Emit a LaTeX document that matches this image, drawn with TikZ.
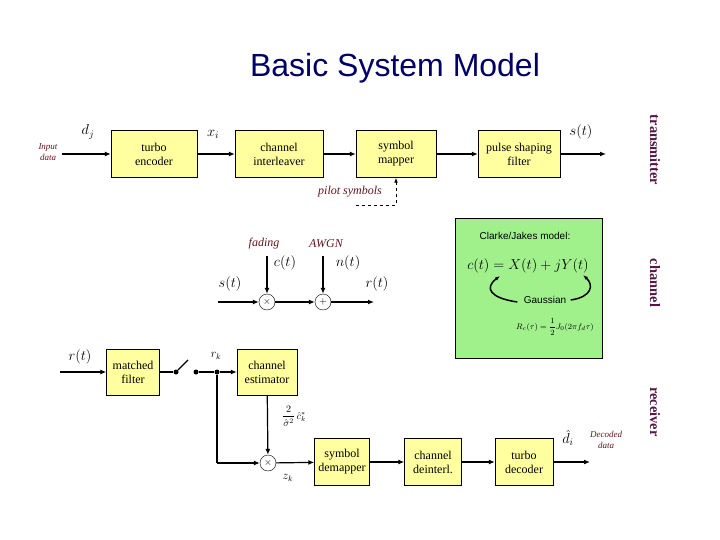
\documentclass[tikz,border=0pt]{standalone}
\usepackage{fontspec}
\setmainfont{Liberation Serif}
\newfontfamily\sansf{Liberation Sans}
\usetikzlibrary{arrows.meta}
\definecolor{boxy}{RGB}{255,255,160}
\definecolor{boxg}{RGB}{160,240,140}
\definecolor{lbl}{RGB}{100,20,30}
\definecolor{side}{RGB}{90,20,70}
\begin{document}
\begin{tikzpicture}[x=1pt,y=-1pt,
  blk/.style={draw,fill=boxy,minimum height=47pt,align=center,font=\large,inner sep=1pt},
  ar/.style={-{Latex[length=6pt,width=5pt]},line width=1.2pt},
  ln/.style={line width=1.2pt},
  op/.style={draw,circle,minimum size=16pt,inner sep=0pt},
  it/.style={font=\large\itshape,text=lbl},
  sd/.style={font=\bfseries\Large,text=side,rotate=-90},
  dot/.style={circle,fill,inner sep=0pt,minimum size=5pt}]
\useasboundingbox (0,0) rectangle (720,540);
\node[font=\sansf\fontsize{32}{38}\selectfont,text=blue!40!black] (title) at (395,68) {Basic System Model};
% transmitter
\node[blk,minimum width=86pt] (te) at (154,154) {turbo\\encoder};
\node[blk,minimum width=88pt] (ci) at (279,154) {channel\\interleaver};
\node[blk,minimum width=80pt] (sm) at (396,154) {symbol\\mapper};
\node[blk,minimum width=82pt] (ps) at (519,154) {pulse shaping\\filter};
\node[it,font=\small\itshape,align=center] (in) at (48,152) {Input\\data};
\coordinate (ina) at (62,154);
\coordinate (sout) at (606,154);
\draw[ar] (ina) -- (te);
\draw[ar] (te) -- (ci);
\draw[ar] (ci) -- (sm);
\draw[ar] (sm) -- (ps);
\draw[ar] (ps) -- (sout);
\node (dj) at (88,132) {\Large$d_j$};
\node (xi) at (213,134) {\Large$x_i$};
\node (st1) at (581,132) {\Large$s(t)$};
\node[it] (pil) at (350,192) {pilot symbols};
\coordinate (p1) at (356,205);
\coordinate (p2) at (396,205);
\draw[dashed,thick,-{Latex[length=5pt]}] (p1) -- (p2) -- (sm.south);
\node[sd] (tx) at (655,150) {transmitter};
% channel
\node[op] (mul) at (267,302) {$\times$};
\node[op] (add) at (323,302) {$+$};
\coordinate (sin) at (218,302);
\coordinate (rout) at (374,302);
\coordinate (ct) at (267,256);
\coordinate (nt) at (323,256);
\draw[ar] (sin) -- (mul);
\draw[ar] (mul) -- (add);
\draw[ar] (add) -- (rout);
\draw[ar] (ct) -- (mul);
\draw[ar] (nt) -- (add);
\node[it] (fad) at (264,244) {fading};
\node[it] (awgn) at (326,244) {AWGN};
\node (ctl) at (285,263) {\Large$c(t)$};
\node (ntl) at (348,263) {\Large$n(t)$};
\node (stl) at (230,284) {\Large$s(t)$};
\node (rtl) at (377,284) {\Large$r(t)$};
\node[draw,fill=boxg,minimum width=147pt,minimum height=140pt] (gb) at (528.5,288) {};
\node[font=\sansf] (cj) at (525,236) {Clarke/Jakes model:};
\node (eq) at (528,266) {\Large$c(t)=X(t)+jY(t)$};
\node[font=\sansf] (gau) at (545,300) {Gaussian};
\node[font=\footnotesize] (rf) at (555,327) {$\displaystyle R_c(\tau)=\frac{1}{2}J_0(2\pi f_d\tau)$};
\draw[-{Latex[length=5pt]},line width=1.5pt] (gau.west) ++(-3,2) .. controls (490,298) and (484,288) .. (500,276);
\draw[-{Latex[length=5pt]},line width=1.5pt] (gau.east) ++(1,0) .. controls (592,297) and (594,285) .. (583,275);
\node[sd] (chn) at (655,283) {channel};
% receiver
\node[blk,minimum width=53pt,minimum height=46pt] (mf) at (133,372) {matched\\filter};
\node[blk,minimum width=60pt,minimum height=46pt] (ce) at (267,372) {channel\\estimator};
\node[op] (mul2) at (268,463) {$\times$};
\node[blk,minimum width=55pt] (sd) at (342,462) {symbol\\demapper};
\node[blk,minimum width=57pt] (di) at (433,462) {channel\\deinterl.};
\node[blk,minimum width=58pt] (td) at (524,462) {turbo\\decoder};
\coordinate (rin) at (60,372);
\node[dot] (s1) at (176,372) {};
\node[dot] (s2) at (196,372) {};
\node[dot] (jn) at (217,372) {};
\coordinate (sw) at (188,360);
\coordinate (jd) at (217,463);
\coordinate (dout) at (590,462);
\draw[ar] (rin) -- (mf);
\draw[ln] (mf) -- (s1);
\draw[ln] (s1) -- (sw);
\draw[ln] (s2) -- (jn);
\draw[ar] (jn) -- (ce);
\draw[ar] (ce) -- (mul2);
\draw[ln] (jn) -- (jd);
\draw[ar] (jd) -- (mul2);
\draw[ar] (mul2) -- (sd);
\draw[ar] (sd) -- (di);
\draw[ar] (di) -- (td);
\draw[ar] (td) -- (dout);
\node (rtr) at (80,357) {\Large$r(t)$};
\node (rk) at (216,356) {\large$r_k$};
\node (frac) at (294,416) {$\displaystyle\frac{2}{\hat\sigma^2}\,\hat c_k^*$};
\node (zk) at (288,478) {\large$z_k$};
\node (dh) at (568,438) {\Large$\hat d_i$};
\node[it,font=\small\itshape,align=center] (dd) at (606,440) {Decoded\\data};
\node[sd] (rx) at (655,412) {receiver};
\end{tikzpicture}
\end{document}
